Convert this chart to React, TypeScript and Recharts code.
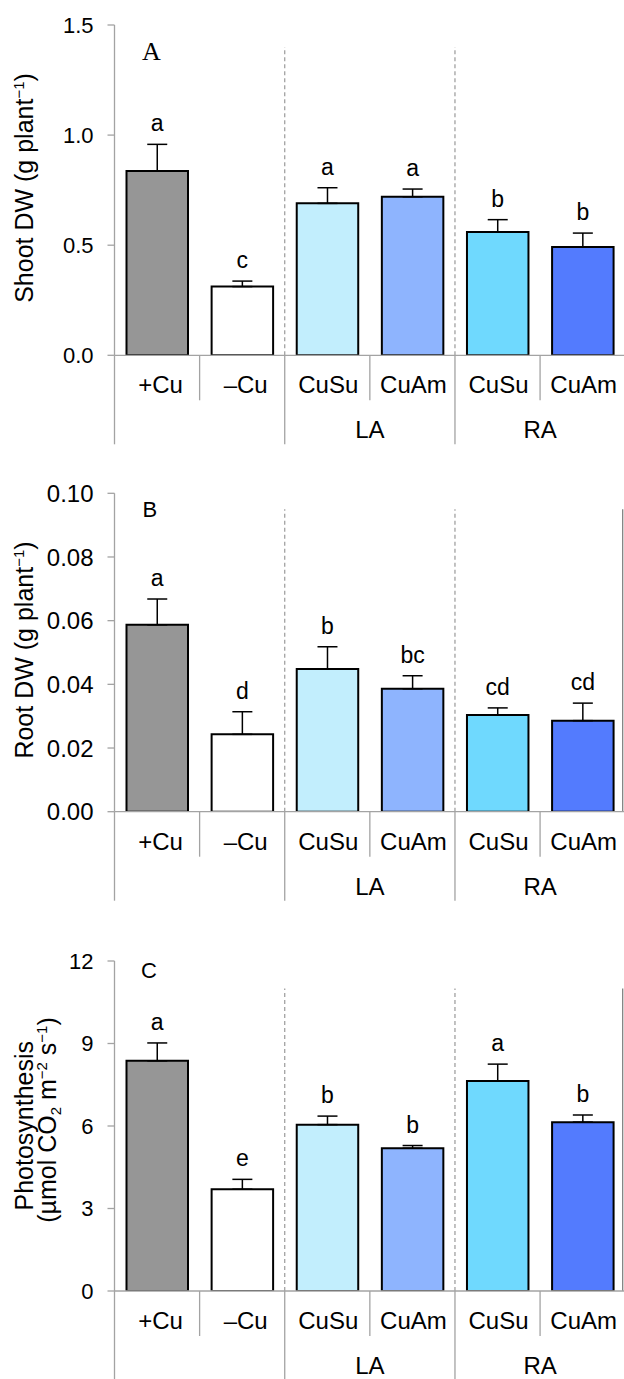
import React from 'react';
import {
  ComposedChart,
  Bar,
  XAxis,
  YAxis,
  ErrorBar,
  Cell,
  LabelList,
  ReferenceLine,
  Label,
} from 'recharts';

// ---------- data ----------
const keys = ['plusCu', 'minusCu', 'LA-CuSu', 'LA-CuAm', 'RA-CuSu', 'RA-CuAm'];
const categoryLabels = ['+Cu', '–Cu', 'CuSu', 'CuAm', 'CuSu', 'CuAm'];
const groupLabels = ['', '', 'LA', 'LA', 'RA', 'RA'];
const barColors = ['#969696', '#ffffff', '#c2eefd', '#8eb4fe', '#6fd9fe', '#537bfe'];

const shootValues = [0.837, 0.312, 0.69, 0.72, 0.56, 0.492];
const shootErrors = [0.121, 0.025, 0.071, 0.035, 0.056, 0.063];
const shootLetters = ['a', 'c', 'a', 'a', 'b', 'b'];
const shootTicks = [0, 0.5, 1.0, 1.5];

const rootValues = [0.0587, 0.0243, 0.0448, 0.0386, 0.0304, 0.0286];
const rootErrors = [0.0081, 0.0071, 0.007, 0.0041, 0.0022, 0.0055];
const rootLetters = ['a', 'd', 'b', 'bc', 'cd', 'cd'];
const rootTicks = [0, 0.02, 0.04, 0.06, 0.08, 0.1];

const photoValues = [8.37, 3.7, 6.05, 5.19, 7.64, 6.14];
const photoErrors = [0.65, 0.36, 0.31, 0.1, 0.61, 0.26];
const photoLetters = ['a', 'e', 'b', 'b', 'a', 'b'];
const photoTicks = [0, 3, 6, 9, 12];

// ---------- layout / style ----------
const CHART_W = 640;
const PLOT_LEFT = 114.5;
const PLOT_RIGHT = 625.2;
const BW = (PLOT_RIGHT - PLOT_LEFT) / 6;
const AXIS = '#a3a3a3';
const FONT = '"Liberation Sans", Arial, sans-serif';

const renderXTick = (props: any) => {
  const { x, y, payload } = props;
  const i = typeof props.index === 'number' ? props.index : keys.indexOf(payload.value);
  const left = x - BW / 2;
  const isGroupStart = i === 0 || groupLabels[i] !== groupLabels[i - 1];
  const label = categoryLabels[i];
  const dx = /^[+–]/.test(label) ? 3.5 : 1;
  const showGroup =
    groupLabels[i] !== '' && groupLabels[i] !== groupLabels[i - 1] && groupLabels[i] === groupLabels[i + 1];
  return (
    <g>
      <line x1={left} x2={left} y1={y} y2={y + (isGroupStart ? 89 : 45)} stroke={AXIS} strokeWidth={1.3} />
      <text x={x + dx} y={y + 38} textAnchor="middle" fontSize={24} fontFamily={FONT} fill="#000">
        {label}
      </text>
      {showGroup ? (
        <text x={x + BW / 2} y={y + 83} textAnchor="middle" fontSize={24} fontFamily={FONT} fill="#000">
          {groupLabels[i]}
        </text>
      ) : null}
    </g>
  );
};

const makeLetterRenderer = (values: number[], errors: number[], letters: string[]) => (props: any) => {
  const vb = props.viewBox && typeof props.viewBox.height === 'number' ? props.viewBox : props;
  const { x, y, width, height } = vb;
  const i = props.index;
  const pxPerUnit = height / values[i];
  const errTop = y - errors[i] * pxPerUnit;
  return (
    <text x={x + width / 2} y={errTop - 13} textAnchor="middle" fontSize={23} fontFamily={FONT} fill="#000">
      {letters[i]}
    </text>
  );
};

type PanelProps = {
  top: number;
  height: number;
  marginTop: number;
  plotHeight: number;
  values: number[];
  errors: number[];
  letters: string[];
  ticks: number[];
  decimals: number;
  tickFont: number;
  dashedTop: number;
  rightLine: boolean;
  overlay: () => React.ReactNode;
};

const Panel = (p: PanelProps) => {
  const data = keys.map((k, i) => ({ key: k, value: p.values[i], err: [0, p.errors[i]] }));
  const xAxisHeight = p.height - p.marginTop - p.plotHeight;
  const maxTick = p.ticks[p.ticks.length - 1];
  return (
    <div style={{ position: 'absolute', left: 0, top: p.top }}>
      <ComposedChart
        width={CHART_W}
        height={p.height}
        data={data}
        margin={{ top: p.marginTop, right: CHART_W - PLOT_RIGHT, bottom: 0, left: 0 }}
      >
        <XAxis
          dataKey="key"
          type="category"
          height={xAxisHeight}
          interval={0}
          tickLine={false}
          tickSize={0}
          tickMargin={0}
          axisLine={{ stroke: AXIS, strokeWidth: 1.3 }}
          tick={renderXTick}
        />
        <YAxis
          type="number"
          domain={[0, maxTick]}
          ticks={p.ticks}
          interval={0}
          width={PLOT_LEFT}
          allowDataOverflow
          tickFormatter={(v: number) => v.toFixed(p.decimals)}
          axisLine={{ stroke: AXIS, strokeWidth: 1.3 }}
          tickLine={{ stroke: AXIS, strokeWidth: 1.3 }}
          tickSize={7}
          tickMargin={14}
          tick={{ fill: '#000', fontSize: p.tickFont, fontFamily: FONT }}
        >
          <Label content={() => <g>{p.overlay()}</g>} />
        </YAxis>
        <ReferenceLine
          segment={[
            { x: keys[2], y: 0 },
            { x: keys[2], y: p.dashedTop },
          ]}
          position="start"
          stroke="#9a9a9a"
          strokeWidth={1.2}
          strokeDasharray="4 3"
        />
        <ReferenceLine
          segment={[
            { x: keys[4], y: 0 },
            { x: keys[4], y: p.dashedTop },
          ]}
          position="start"
          stroke="#9a9a9a"
          strokeWidth={1.2}
          strokeDasharray="4 3"
        />
        {p.rightLine ? (
          <ReferenceLine
            segment={[
              { x: keys[5], y: 0 },
              { x: keys[5], y: p.dashedTop },
            ]}
            position="end"
            shape={(s: any) => (
              <line x1={s.x1 - 2.5} y1={s.y1} x2={s.x2 - 2.5} y2={s.y2} stroke="#808080" strokeWidth={1.3} />
            )}
          />
        ) : null}
        <Bar dataKey="value" barSize={61.5} stroke="#000" strokeWidth={2} isAnimationActive={false}>
          {data.map((d, i) => (
            <Cell key={d.key} fill={barColors[i]} />
          ))}
          <ErrorBar dataKey="err" direction="y" width={10} stroke="#000" strokeWidth={1.5} isAnimationActive={false} />
          <LabelList dataKey="value" content={makeLetterRenderer(p.values, p.errors, p.letters)} />
        </Bar>
      </ComposedChart>
    </div>
  );
};

const txt = { fontFamily: FONT, fill: '#000' } as const;

export default function App() {
  return (
    <div
      style={{
        position: 'absolute',
        left: 0,
        top: 0,
        width: 624,
        height: 1379,
        overflow: 'hidden',
        background: '#fff',
      }}
    >
      <Panel
        top={0}
        height={450}
        marginTop={25}
        plotHeight={330.3}
        values={shootValues}
        errors={shootErrors}
        letters={shootLetters}
        ticks={shootTicks}
        decimals={1}
        tickFont={22}
        dashedTop={1.4}
        rightLine={false}
        overlay={() => (
          <>
            <text transform="translate(33, 188) rotate(-90)" textAnchor="middle" fontSize={25} {...txt}>
              Shoot DW (g plant
              <tspan dy={-9} fontSize={15}>
                −1
              </tspan>
              <tspan dy={9}>)</tspan>
            </text>
            <text x={142} y={60} fontSize={26} fontFamily='"Liberation Serif", "Times New Roman", serif' fill="#000">
              A
            </text>
          </>
        )}
      />
      <Panel
        top={450}
        height={460}
        marginTop={43.3}
        plotHeight={318.4}
        values={rootValues}
        errors={rootErrors}
        letters={rootLetters}
        ticks={rootTicks}
        decimals={2}
        tickFont={24}
        dashedTop={0.095}
        rightLine={true}
        overlay={() => (
          <>
            <text transform="translate(33, 200) rotate(-90)" textAnchor="middle" fontSize={25} {...txt}>
              Root DW (g plant
              <tspan dy={-9} fontSize={15}>
                −1
              </tspan>
              <tspan dy={9}>)</tspan>
            </text>
            <text x={142.5} y={66.7} fontSize={22} {...txt}>
              B
            </text>
          </>
        )}
      />
      <Panel
        top={910}
        height={469}
        marginTop={51}
        plotHeight={330}
        values={photoValues}
        errors={photoErrors}
        letters={photoLetters}
        ticks={photoTicks}
        decimals={0}
        tickFont={22}
        dashedTop={11}
        rightLine={true}
        overlay={() => (
          <>
            <text transform="translate(33, 215.7) rotate(-90)" textAnchor="middle" fontSize={25} {...txt}>
              Photosynthesis
            </text>
            <text transform="translate(55.5, 210) rotate(-90)" textAnchor="middle" fontSize={25} {...txt}>
              (µmol CO
              <tspan dy={5} fontSize={15}>
                2
              </tspan>
              <tspan dy={-5}> m</tspan>
              <tspan dy={-9} fontSize={15}>
                −2
              </tspan>
              <tspan dy={9}> s</tspan>
              <tspan dy={-9} fontSize={15}>
                −1
              </tspan>
              <tspan dy={9}>)</tspan>
            </text>
            <text x={141} y={68.3} fontSize={22} {...txt}>
              C
            </text>
          </>
        )}
      />
    </div>
  );
}
